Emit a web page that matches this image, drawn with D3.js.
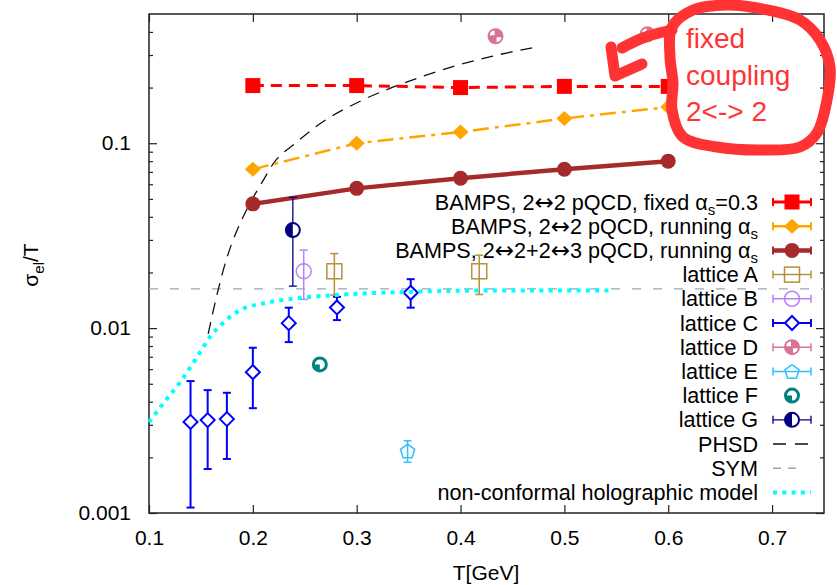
<!DOCTYPE html>
<html>
<head>
<meta charset="utf-8">
<script src="https://cdn.jsdelivr.net/npm/d3@7"></script>
<style>
body { margin: 0; background: #fff; }
text { font-family: "Liberation Sans", Arial, sans-serif; }
</style>
</head>
<body>
<svg id="chart" width="837" height="585"></svg>
<script>
// ---- data ----
var bampsT = [0.2, 0.3, 0.4, 0.5, 0.6];
var fixedSigma = [0.205, 0.205, 0.2, 0.203, 0.203];
var runningSigma = [0.0723, 0.1, 0.115, 0.136, 0.157];
var rad23Sigma = [0.047, 0.057, 0.0647, 0.0723, 0.08];

var latA_T = [0.2785, 0.418], latA_s = [0.0203, 0.0203], latA_lo = [0.0151, 0.0152], latA_hi = [0.0253, 0.0248];
var latB_T = [0.249], latB_s = [0.0203], latB_lo = [0.0143], latB_hi = [0.0264];
var latC_T = [0.140, 0.1565, 0.175, 0.2, 0.2346, 0.281, 0.352];
var latC_s = [0.00311, 0.00318, 0.00322, 0.00578, 0.01064, 0.01294, 0.01552];
var latC_lo = [0.00107, 0.00173, 0.00196, 0.00369, 0.0084, 0.01105, 0.0129];
var latC_hi = [0.00517, 0.00462, 0.00447, 0.00783, 0.0129, 0.01476, 0.0184];
var latD_T = [0.4337, 0.58], latD_s = [0.379, 0.388];
var latE_T = [0.349], latE_s = [0.00217], latE_lo = [0.00188], latE_hi = [0.00246];
var latF_T = [0.2645], latF_s = [0.00636];
var latG_T = [0.2385], latG_s = [0.0339], latG_lo = [0.01687], latG_hi = [0.051];

var phsdT = [0.157, 0.165, 0.175, 0.185, 0.197, 0.21, 0.22, 0.241, 0.2625, 0.3055, 0.348, 0.391, 0.43, 0.4725];
var phsdS = [0.0093, 0.0148, 0.024, 0.034, 0.047, 0.063, 0.078, 0.1, 0.125, 0.171, 0.214, 0.258, 0.295, 0.331];
var symLevel = 0.0163;
var holoT = [0.1, 0.115, 0.13, 0.145, 0.159, 0.17, 0.178, 0.19, 0.21, 0.242, 0.28, 0.35, 0.45, 0.545];
var holoS = [0.0031, 0.004, 0.0051, 0.0068, 0.009, 0.0105, 0.0115, 0.0127, 0.0136, 0.0145, 0.0151, 0.0157, 0.016, 0.016];

var xTicks = [0.1, 0.2, 0.3, 0.4, 0.5, 0.6, 0.7];
var yTicks = [0.001, 0.01, 0.1];

var legendLabels = [
  "BAMPS, 2\u21942 pQCD, fixed \u03b1_{s}=0.3",
  "BAMPS, 2\u21942 pQCD, running \u03b1_{s}",
  "BAMPS, 2\u21942+2\u21943 pQCD, running \u03b1_{s}",
  "lattice A", "lattice B", "lattice C", "lattice D", "lattice E", "lattice F", "lattice G",
  "PHSD", "SYM", "non-conformal holographic model"
];
var noteLines = ["fixed", "coupling", "2<-> 2"];

// ---- setup ----
var svg = d3.select("#chart");
var font = '"Liberation Sans", Arial, sans-serif';
var x = d3.scaleLinear().domain([0.1, 0.75]).range([149, 824]);
var y = d3.scaleLog().domain([0.001, 0.5]).range([513, 14]);
var yMinor = y.ticks().filter(function(v) {
  var l = Math.log10(v);
  return Math.abs(l - Math.round(l)) > 1e-6 && v < 0.5;
});

function zip(a, b) { return a.map(function(v, i) { return [v, b[i]]; }); }

function styleAxis(g) {
  g.attr("font-size", 21).attr("font-family", font);
  g.select(".domain").remove();
  g.selectAll("line").attr("stroke", "#222").attr("stroke-width", 1.2);
  g.selectAll("text").attr("fill", "#000");
}

// axes (ticks point inwards, mirrored on top/right)
svg.append("g").attr("transform", "translate(0,513)")
  .call(d3.axisBottom(x).tickValues(xTicks).tickSize(-8).tickSizeOuter(0).tickPadding(17).tickFormat(d3.format(".1f")))
  .call(styleAxis);
svg.append("g").attr("transform", "translate(0,14)")
  .call(d3.axisTop(x).tickValues(xTicks).tickSize(-8).tickSizeOuter(0).tickFormat(""))
  .call(styleAxis);
svg.append("g").attr("transform", "translate(149,0)")
  .call(d3.axisLeft(y).tickValues(yTicks).tickSize(-8).tickSizeOuter(0).tickPadding(18).tickFormat(function(d) { return String(d); }))
  .call(styleAxis);
svg.append("g").attr("transform", "translate(149,0)")
  .call(d3.axisLeft(y).tickValues(yMinor).tickSize(-4).tickSizeOuter(0).tickFormat(""))
  .call(styleAxis);
svg.append("g").attr("transform", "translate(824,0)")
  .call(d3.axisRight(y).tickValues(yTicks).tickSize(-8).tickSizeOuter(0).tickFormat(""))
  .call(styleAxis);
svg.append("g").attr("transform", "translate(824,0)")
  .call(d3.axisRight(y).tickValues(yMinor).tickSize(-4).tickSizeOuter(0).tickFormat(""))
  .call(styleAxis);

svg.append("rect").attr("x", 149).attr("y", 14).attr("width", 675).attr("height", 499)
  .attr("fill", "none").attr("stroke", "#222").attr("stroke-width", 1.5);

// text with _{sub} markup; the arrow glyph is taken from DejaVu
function richText(sel, str, subSize, shift) {
  var parts = str.split(/_\{([^}]*)\}/);
  parts.forEach(function(p, i) {
    if (!p) return;
    if (i % 2 === 1) {
      sel.append("tspan").text(p).attr("font-size", subSize).attr("dy", shift);
      return;
    }
    var first = true;
    p.split(/(\u2194)/).forEach(function(q) {
      if (!q) return;
      var t = sel.append("tspan").text(q);
      if (q === "\u2194") t.attr("font-family", '"DejaVu Sans", sans-serif').attr("font-size", 23);
      if (first && i > 0) t.attr("dy", -shift);
      first = false;
    });
  });
}

// axis titles
svg.append("text").attr("x", 486).attr("y", 580).attr("text-anchor", "middle")
  .attr("font-size", 21).text("T[GeV]");
var yt = svg.append("text").attr("transform", "translate(38,265) rotate(-90)")
  .attr("text-anchor", "middle").attr("font-size", 21);
richText(yt, "\u03c3_{el}/T", 15, 6);

// ---- markers ----
var arc = d3.arc().innerRadius(0);
function marker(g, kind, color, cx, cy) {
  var m = g.append("g").attr("transform", "translate(" + cx + "," + cy + ")");
  if (kind === "fsquare") {
    m.append("rect").attr("x", -7.5).attr("y", -7.5).attr("width", 15).attr("height", 15).attr("fill", color);
  } else if (kind === "fdiamond") {
    m.append("path").attr("d", "M0,-7.5L8,0L0,7.5L-8,0Z").attr("fill", color);
  } else if (kind === "fcircle") {
    m.append("circle").attr("r", 7.5).attr("fill", color);
  } else if (kind === "square") {
    m.append("rect").attr("x", -7.5).attr("y", -7.5).attr("width", 15).attr("height", 15)
      .attr("fill", "none").attr("stroke", color).attr("stroke-width", 1.5);
  } else if (kind === "circle") {
    m.append("circle").attr("r", 7.5).attr("fill", "none").attr("stroke", color).attr("stroke-width", 1.5);
  } else if (kind === "diamond") {
    m.append("path").attr("d", "M0,-7L7,0L0,7L-7,0Z").attr("fill", "#fff")
      .attr("stroke", color).attr("stroke-width", 2);
  } else if (kind === "pent") {
    var pts = d3.range(5).map(function(k) {
      var a = -Math.PI / 2 + k * 2 * Math.PI / 5;
      return [7.5 * Math.cos(a), 7.5 * Math.sin(a) + 0.8];
    });
    m.append("path").attr("d", "M" + pts.join("L") + "Z").attr("fill", "none")
      .attr("stroke", color).attr("stroke-width", 1.5);
  } else if (kind === "quad") {
    m.append("circle").attr("r", 8).attr("fill", color);
    [[-Math.PI / 2, 0], [Math.PI / 2, Math.PI]].forEach(function(q) {
      m.append("path").attr("d", arc({outerRadius: 4.8, startAngle: q[0], endAngle: q[1]}))
        .attr("fill", "#fff").attr("transform", "translate(" + (q[0] < 0 ? -1 : 1) + "," + (q[0] < 0 ? -1 : 1) + ")");
    });
  } else if (kind === "ringq") {
    m.append("circle").attr("r", 6.5).attr("fill", "#fff").attr("stroke", color).attr("stroke-width", 3);
    m.append("path").attr("d", arc({outerRadius: 6.5, startAngle: Math.PI, endAngle: 1.5 * Math.PI})).attr("fill", color);
  } else if (kind === "half") {
    m.append("circle").attr("r", 7).attr("fill", "#fff").attr("stroke", color).attr("stroke-width", 2);
    m.append("path").attr("d", arc({outerRadius: 7, startAngle: Math.PI, endAngle: 2 * Math.PI})).attr("fill", color);
  }
}

function errBar(g, color, w, cx, y0, y1) {
  g.append("line").attr("x1", cx).attr("x2", cx).attr("y1", y0).attr("y2", y1)
    .attr("stroke", color).attr("stroke-width", w);
  [y0, y1].forEach(function(yy) {
    g.append("line").attr("x1", cx - 4).attr("x2", cx + 4).attr("y1", yy).attr("y2", yy)
      .attr("stroke", color).attr("stroke-width", w);
  });
}

// ---- curves ----
var line = d3.line().x(function(d) { return x(d[0]); }).y(function(d) { return y(d[1]); });
var smooth = d3.line().curve(d3.curveMonotoneX).x(function(d) { return x(d[0]); }).y(function(d) { return y(d[1]); });
var plot = svg.append("g");

plot.append("path").attr("d", line([[0.1, symLevel], [0.75, symLevel]]))
  .attr("fill", "none").attr("stroke", "#9ea6b4").attr("stroke-width", 1.4).attr("stroke-dasharray", "9,12");
plot.append("path").attr("d", smooth(zip(phsdT, phsdS)))
  .attr("fill", "none").attr("stroke", "#111").attr("stroke-width", 1.3).attr("stroke-dasharray", "12,8");

var bamps = [
  {s: fixedSigma, color: "#ff0000", w: 3, dash: "11,7", kind: "fsquare"},
  {s: runningSigma, color: "#ffa500", w: 2.5, dash: "16,6,4,6", kind: "fdiamond"},
  {s: rad23Sigma, color: "#a52a2a", w: 4.5, dash: null, kind: "fcircle"}
];
bamps.forEach(function(b) {
  plot.append("path").attr("d", line(zip(bampsT, b.s)))
    .attr("fill", "none").attr("stroke", b.color).attr("stroke-width", b.w)
    .attr("stroke-dasharray", b.dash);
  bampsT.forEach(function(t, i) { marker(plot, b.kind, b.color, x(t), y(b.s[i])); });
});

var lattice = [
  {T: latA_T, s: latA_s, lo: latA_lo, hi: latA_hi, color: "#b8903c", kind: "square", w: 1.5},
  {T: latB_T, s: latB_s, lo: latB_lo, hi: latB_hi, color: "#b782f5", kind: "circle", w: 1.5},
  {T: latC_T, s: latC_s, lo: latC_lo, hi: latC_hi, color: "#0000ff", kind: "diamond", w: 2},
  {T: latD_T, s: latD_s, color: "#d97396", kind: "quad", w: 1.5},
  {T: latE_T, s: latE_s, lo: latE_lo, hi: latE_hi, color: "#30bfff", kind: "pent", w: 1.5},
  {T: latF_T, s: latF_s, color: "#008080", kind: "ringq", w: 1.5},
  {T: latG_T, s: latG_s, lo: latG_lo, hi: latG_hi, color: "#000080", kind: "half", w: 1.3}
];
lattice.forEach(function(L) {
  L.T.forEach(function(t, i) {
    if (L.lo) errBar(plot, L.color, L.w, x(t), y(L.lo[i]), y(L.hi[i]));
    marker(plot, L.kind, L.color, x(t), y(L.s[i]));
  });
});

plot.append("path").attr("d", smooth(zip(holoT, holoS)))
  .attr("fill", "none").attr("stroke", "#00ffff").attr("stroke-width", 4).attr("stroke-dasharray", "4,5.3");

// ---- legend ----
var legend = svg.append("g").attr("font-size", 21.6);
var lx0 = 773, lx1 = 811, lxc = 792;
legendLabels.forEach(function(lab, i) {
  var cy = 202 + i * 24.2;
  var t = legend.append("text").attr("x", 758).attr("y", cy + 7.5).attr("text-anchor", "end");
  richText(t, lab, 15, 5);
  if (i < 3) {
    var b = bamps[i];
    errBarH(b.color, b.w, cy);
    marker(legend, b.kind, b.color, lxc, cy);
  } else if (i < 10) {
    var L = lattice[i - 3];
    if (L.kind !== "ringq") errBarH(L.color, L.w, cy);
    marker(legend, L.kind, L.color, lxc, cy);
  } else if (i === 10) {
    legend.append("line").attr("x1", lx0).attr("x2", lx1).attr("y1", cy).attr("y2", cy)
      .attr("stroke", "#111").attr("stroke-width", 1.3).attr("stroke-dasharray", "13,9");
  } else if (i === 11) {
    legend.append("line").attr("x1", lx0).attr("x2", lx1 - 10).attr("y1", cy).attr("y2", cy)
      .attr("stroke", "#9ea6b4").attr("stroke-width", 1.4).attr("stroke-dasharray", "8,7");
  } else {
    legend.append("line").attr("x1", lx0).attr("x2", lx1).attr("y1", cy).attr("y2", cy)
      .attr("stroke", "#00ffff").attr("stroke-width", 4).attr("stroke-dasharray", "4,5.3");
  }
});
function errBarH(color, w, cy) {
  legend.append("line").attr("x1", lx0).attr("x2", lx1).attr("y1", cy).attr("y2", cy)
    .attr("stroke", color).attr("stroke-width", w);
  [lx0, lx1].forEach(function(xx) {
    legend.append("line").attr("x1", xx).attr("x2", xx).attr("y1", cy - 4).attr("y2", cy + 4)
      .attr("stroke", color).attr("stroke-width", Math.min(w, 2));
  });
}

// ---- hand-drawn annotation ----
var note = svg.append("g");
var loop = [[672, 27], [693, 10], [727, 5], [757, 8], [800, 20], [820, 40], [830, 67], [827, 100],
            [817, 133], [800, 147], [760, 150], [717, 147], [683, 137], [672, 110], [673, 83], [670, 57]];
note.append("path").attr("d", d3.line().curve(d3.curveCatmullRomClosed)(loop))
  .attr("fill", "none").attr("stroke", "#ff3333").attr("stroke-width", 11).attr("stroke-linejoin", "round");
note.append("path").attr("d", d3.line().curve(d3.curveBasis)([[672, 30], [645, 36], [622, 48]]))
  .attr("fill", "none").attr("stroke", "#ff3333").attr("stroke-width", 11).attr("stroke-linecap", "round");
note.append("path").attr("d", "M611,47L615,76L642,64")
  .attr("fill", "none").attr("stroke", "#ff3333").attr("stroke-width", 11)
  .attr("stroke-linecap", "round").attr("stroke-linejoin", "round");
noteLines.forEach(function(s, i) {
  note.append("text").attr("x", 686).attr("y", 48 + i * 36.5)
    .attr("font-family", '"DejaVu Sans", sans-serif').attr("font-size", 28)
    .attr("fill", "#ff3333").text(s);
});
</script>
</body>
</html>
